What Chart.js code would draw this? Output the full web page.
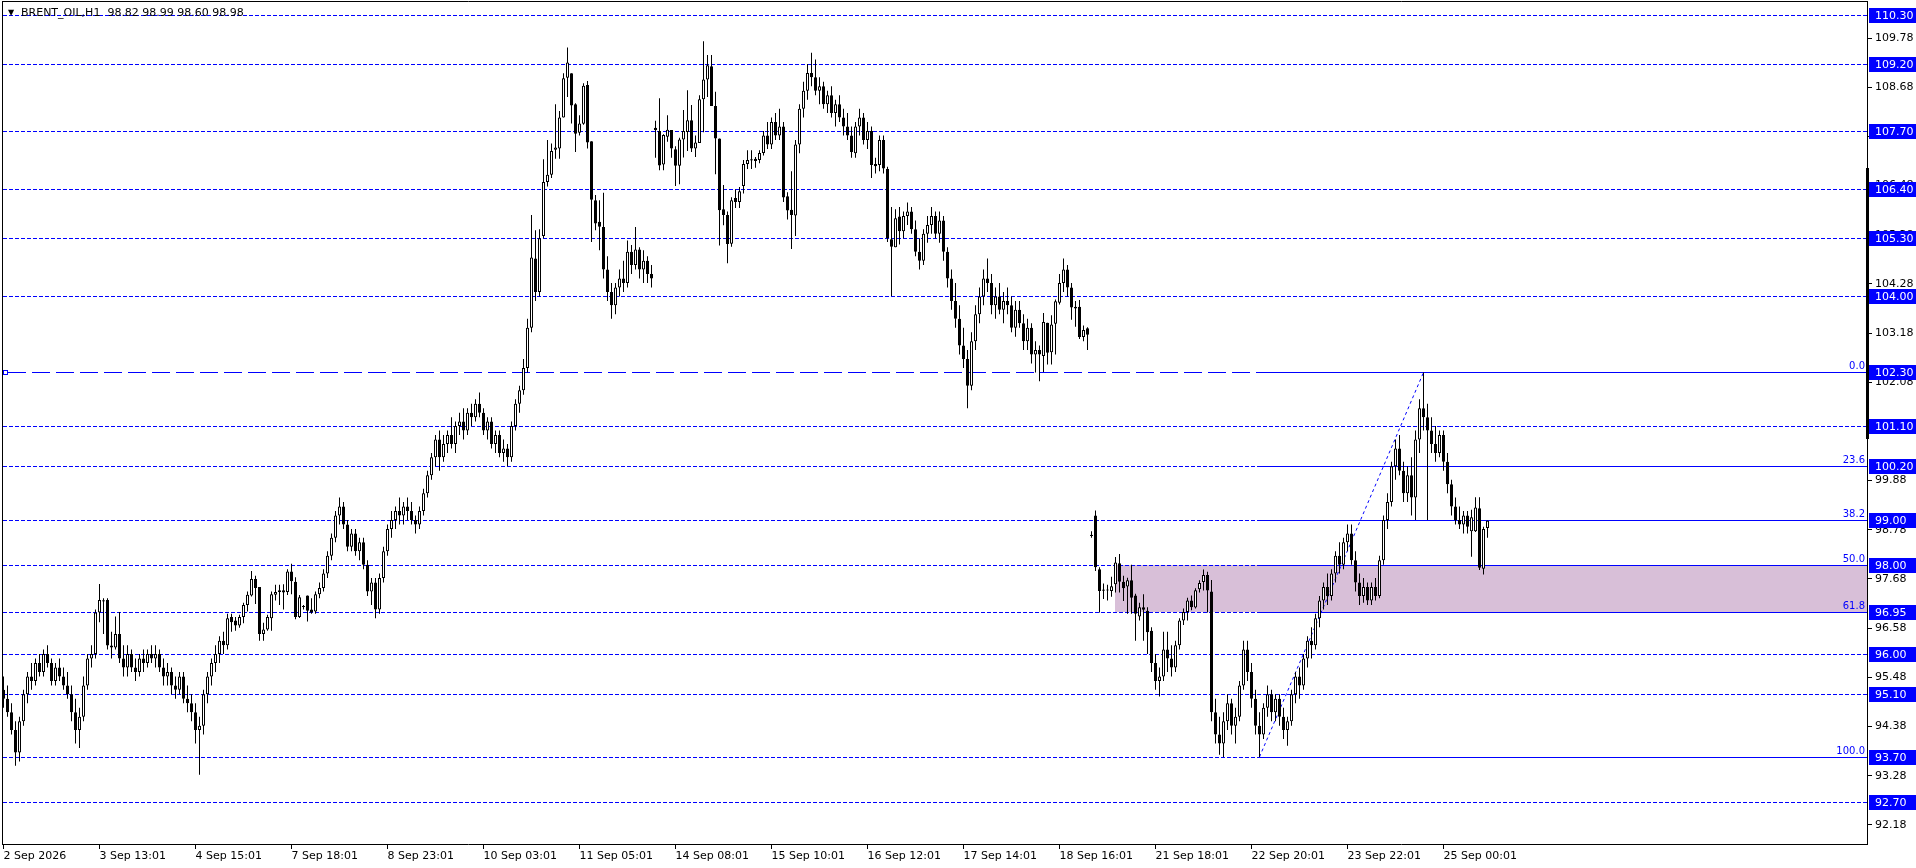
<!DOCTYPE html>
<html><head><meta charset="utf-8">
<script src="https://cdn.jsdelivr.net/npm/chart.js@4.4.1/dist/chart.umd.min.js"></script>
<style>html,body{margin:0;padding:0;background:#fff;overflow:hidden}</style>
</head><body>
<canvas id="c" width="1916" height="868"></canvas>
<script>
const titleText = 'BRENT_OIL,H1  98.82 98.99 98.60 98.98';
const dateLabels = ['2 Sep 2026','3 Sep 13:01','4 Sep 15:01','7 Sep 18:01','8 Sep 23:01','10 Sep 03:01','11 Sep 05:01','14 Sep 08:01','15 Sep 10:01','16 Sep 12:01','17 Sep 14:01','18 Sep 16:01','21 Sep 18:01','22 Sep 20:01','23 Sep 22:01','25 Sep 00:01'];
const labelStep = 24;

const opens = [
95.2,95.0,94.7,94.3,93.8,94.5,95.1,95.5,95.4,95.8,95.6,96.0,
95.8,95.4,95.7,95.5,95.3,95.1,94.7,94.3,94.6,95.3,95.9,96.0,
96.93,97.2,97.21,96.19,96.15,96.45,95.9,95.7,96.0,95.7,95.6,95.9,
95.8,96.0,95.9,96.0,95.7,95.5,95.6,95.3,95.2,95.5,95.0,94.9,
94.7,94.3,94.4,95.1,95.5,95.8,96.0,96.3,96.2,96.83,96.75,96.64,
96.83,97.1,97.31,97.68,97.5,96.45,96.55,96.8,97.33,97.43,97.43,97.39,
97.85,97.62,96.83,97.06,97.31,97.0,96.95,97.34,97.48,97.8,98.2,98.6,
99.1,99.3,98.9,98.4,98.7,98.3,98.5,98.0,97.4,97.6,97.0,97.7,
98.3,98.8,99.0,99.2,99.1,99.3,99.2,99.0,98.9,99.2,99.6,100.0,
100.4,100.8,100.4,100.7,100.9,100.7,101.1,101.2,101.0,101.4,101.3,101.6,
101.4,101.0,101.2,100.7,100.9,100.5,100.6,100.4,101.1,101.6,101.9,102.4,
103.3,104.85,104.1,105.35,106.56,106.72,107.28,107.31,108.0,108.89,108.99,108.3,
107.66,107.86,108.73,107.47,106.15,105.67,105.55,104.6,104.1,103.8,104.2,104.4,
104.3,105.0,104.7,105.05,104.6,104.8,104.5,107.77,107.70,106.95,107.57,107.72,
107.29,106.92,107.51,107.68,107.94,107.31,107.43,108.41,108.85,109.15,108.26,107.53,
105.95,105.82,105.18,106.20,106.11,106.47,106.96,107.05,107.08,107.05,107.21,107.6,
107.4,107.9,107.6,107.8,106.24,105.94,105.81,107.4,108.2,108.6,109.0,108.9,
108.6,108.7,108.3,108.5,108.1,108.3,108.0,107.8,107.6,107.2,107.8,108.0,
107.5,107.7,106.96,106.94,107.5,106.85,105.28,105.1,105.79,105.46,105.8,105.9,
105.5,105.0,104.8,105.4,105.6,105.8,105.4,105.7,105.0,104.4,103.9,103.5,
102.9,102.6,102.0,103.0,103.6,104.0,104.4,104.3,103.8,104.0,103.7,103.9,
103.8,103.3,103.7,103.4,103.0,103.3,102.7,102.8,102.67,103.41,102.75,103.39,
103.86,104.3,104.6,104.2,103.77,103.77,103.09,103.29,98.65,99.10,97.90,97.43,
97.43,97.41,97.56,98.03,97.62,97.51,97.65,97.31,96.84,97.05,96.97,96.52,
95.8,95.4,95.5,96.1,95.9,95.7,96.2,96.75,96.94,97.2,97.04,97.45,
97.61,97.77,97.40,94.7,94.2,94.0,94.5,94.9,94.4,94.6,95.3,96.1,
95.6,95.0,94.4,94.2,94.8,95.1,94.7,95.0,94.6,94.3,94.5,95.1,
95.5,95.3,95.9,96.3,96.2,96.8,97.2,97.5,97.3,97.8,98.2,98.0,
98.5,98.7,98.1,97.6,97.3,97.5,97.2,97.5,97.3,98.1,99.0,99.4,
100.2,100.6,100.1,99.6,100.0,99.5,100.8,101.5,101.3,101.0,100.7,100.5,
100.9,100.3,99.8,99.3,99.0,98.9,99.1,98.75,98.75,99.26,97.91,98.82];

const highs = [
95.5,95.3,94.9,94.5,94.6,95.2,95.6,95.8,95.9,96.0,96.1,96.2,
95.9,95.8,95.9,95.7,95.6,95.3,95.0,94.8,95.5,96.0,96.2,97.0,
97.57,97.25,97.25,96.5,96.84,96.94,96.2,96.2,96.1,95.9,96.0,96.1,
96.1,96.2,96.2,96.1,95.9,95.8,95.7,95.5,95.6,95.6,95.3,95.1,
94.9,94.6,95.2,95.6,95.9,96.2,96.4,96.5,96.9,96.9,96.83,96.88,
97.15,97.4,97.86,97.75,97.5,96.7,96.88,97.4,97.55,97.55,97.56,97.9,
98.02,97.72,97.32,97.1,97.31,97.25,97.4,97.6,97.9,98.3,98.7,99.2,
99.5,99.4,99.0,98.8,98.8,98.6,98.6,98.1,97.7,97.7,97.8,98.4,
98.9,99.2,99.3,99.5,99.4,99.5,99.4,99.1,99.3,99.7,100.1,100.5,
100.9,101.0,100.9,101.0,101.3,101.2,101.4,101.5,101.5,101.6,101.7,101.85,
101.5,101.3,101.3,101.0,101.0,100.8,100.7,101.2,101.7,102.0,102.6,103.5,
105.82,105.48,105.5,107.07,107.5,107.42,108.3,108.15,108.99,109.57,108.99,108.32,
108.05,108.77,108.82,107.47,106.27,106.15,106.32,104.9,104.3,104.3,104.6,104.8,
105.25,105.15,105.55,105.1,105.03,104.9,104.7,107.93,108.43,107.63,108.05,107.72,
107.36,107.55,108.17,108.61,108.28,107.60,108.50,109.71,109.40,109.40,108.58,107.53,
106.49,105.90,106.22,106.39,106.45,107.05,107.27,107.27,107.12,107.27,107.7,107.9,
108.0,108.1,108.2,107.9,106.33,106.8,107.5,108.3,108.8,109.2,109.45,109.3,
108.9,108.8,108.6,108.7,108.4,108.5,108.2,108.1,107.8,107.9,108.2,108.1,
107.9,107.8,107.1,107.6,107.6,106.9,106.0,105.95,106.0,105.9,106.1,106.0,
105.7,105.3,105.5,105.8,106.0,105.9,105.9,105.8,105.1,104.6,104.3,103.8,
103.3,102.8,103.2,103.8,104.2,104.6,104.85,104.5,104.2,104.3,104.1,104.2,
104.0,103.9,103.9,103.6,103.5,103.4,103.0,102.9,103.63,103.41,103.58,103.93,
104.5,104.85,104.7,104.3,103.9,103.92,103.35,103.31,98.75,99.21,97.94,97.58,
97.55,97.73,98.17,98.24,97.75,97.71,98.0,97.35,97.15,97.34,97.05,96.6,
96.0,95.7,96.5,96.5,96.2,96.3,96.8,97.02,97.26,97.31,97.47,97.65,
97.89,97.84,97.66,95.0,94.6,94.7,95.1,95.0,94.8,95.4,96.3,96.3,
95.8,95.2,94.7,94.9,95.3,95.2,95.1,95.1,94.8,94.6,95.2,95.6,
95.7,96.0,96.4,96.6,96.9,97.3,97.6,97.8,97.9,98.3,98.5,98.6,
98.9,98.9,98.3,97.8,97.7,97.6,97.6,97.7,98.2,99.1,99.6,100.3,
100.8,100.9,100.3,100.2,100.4,101.0,101.7,102.3,101.6,101.3,101.1,101.0,
101.0,100.5,99.9,99.5,99.3,99.2,99.2,99.23,99.51,99.51,98.85,98.99];

const lows = [
94.8,94.6,94.2,93.5,93.6,94.4,94.9,95.2,95.3,95.5,95.5,95.7,
95.3,95.3,95.4,95.2,95.0,94.5,94.0,93.9,94.5,95.2,95.7,95.9,
96.71,96.45,96.1,95.9,96.1,95.8,95.5,95.5,95.6,95.4,95.5,95.6,
95.7,95.8,95.7,95.6,95.3,95.3,95.1,95.0,95.1,94.9,94.7,94.5,
94.0,93.3,94.2,94.9,95.3,95.6,95.8,96.0,96.1,96.5,96.52,96.59,
96.69,96.95,97.29,97.12,96.3,96.3,96.52,96.52,97.2,97.1,97.0,97.32,
97.34,96.78,96.81,97.0,96.73,96.9,96.9,97.25,97.4,97.7,98.1,98.5,
98.9,98.8,98.3,98.3,98.2,98.1,97.9,97.3,97.1,96.8,96.9,97.6,
98.2,98.6,98.8,98.9,98.9,99.0,98.9,98.7,98.8,99.1,99.5,99.9,
100.2,100.1,100.3,100.5,100.6,100.5,100.9,100.8,100.9,101.1,101.2,101.3,
100.9,100.8,100.6,100.5,100.4,100.3,100.2,100.3,101.0,101.4,101.8,102.3,
103.2,103.9,104.0,105.3,106.46,106.65,107.08,107.08,108.0,108.46,107.87,107.23,
107.6,107.84,107.31,105.22,105.48,105.03,104.4,103.9,103.5,103.6,104.0,104.1,
104.2,104.5,104.6,104.4,104.3,104.3,104.2,107.10,106.82,106.82,107.46,107.10,
106.47,106.51,107.11,107.25,107.23,107.12,107.43,107.67,108.46,108.26,106.73,105.14,
105.59,104.74,105.11,105.98,105.98,106.30,106.85,106.85,106.88,106.98,107.15,107.3,
107.3,107.5,107.5,106.11,105.72,105.06,105.35,107.2,108.0,108.4,108.7,108.5,
108.3,108.2,108.1,108.0,107.8,107.9,107.6,107.5,107.1,107.1,107.6,107.4,
107.3,106.65,106.75,106.8,106.75,105.22,104.01,105.1,105.16,105.3,105.6,105.4,
104.9,104.6,104.7,105.2,105.4,105.3,105.2,104.8,104.2,103.7,103.3,102.7,
102.4,101.5,101.9,102.8,103.4,103.8,104.1,103.6,103.5,103.6,103.4,103.6,
103.2,103.1,103.3,102.8,102.8,102.5,102.3,102.1,102.31,102.48,102.48,102.70,
103.82,104.1,104.0,103.48,103.32,103.05,103.0,102.8,98.6,97.86,96.93,97.23,
97.2,97.28,97.38,97.38,97.19,96.90,96.90,96.30,96.75,96.30,96.0,95.6,
95.2,95.05,95.4,95.6,95.5,95.6,96.1,96.65,96.75,96.98,97.02,97.38,
97.42,96.93,94.5,94.0,93.75,93.7,94.3,94.2,94.0,94.5,95.2,95.4,
94.8,94.2,93.7,94.1,94.6,94.5,94.5,94.4,94.1,93.95,94.4,94.9,
95.0,95.2,95.7,95.9,96.1,96.6,97.0,97.1,97.2,97.6,97.8,97.9,
98.3,98.0,97.4,97.1,97.15,97.1,97.1,97.2,97.25,98.0,98.8,99.3,
99.9,100.0,99.4,99.4,99.1,99.0,100.5,101.0,99.0,100.5,100.3,100.4,
100.1,99.6,99.1,98.9,98.8,98.7,98.7,98.18,98.73,97.88,97.78,98.60];

const closes = [
95.0,94.7,94.3,93.8,94.5,95.1,95.5,95.4,95.8,95.6,96.0,95.8,
95.4,95.7,95.5,95.3,95.1,94.7,94.3,94.6,95.3,95.9,96.0,96.93,
97.21,97.18,96.19,96.15,96.45,95.9,95.7,96.0,95.7,95.6,95.9,95.8,
96.0,95.9,96.0,95.7,95.5,95.6,95.3,95.2,95.5,95.0,94.9,94.7,
94.3,94.4,95.1,95.5,95.8,96.0,96.3,96.2,96.8,96.71,96.64,96.83,
97.1,97.33,97.68,97.48,96.45,96.55,96.83,97.34,97.39,97.39,97.38,97.85,
97.63,96.83,97.27,97.07,96.97,96.93,97.34,97.48,97.8,98.2,98.6,99.1,
99.3,98.9,98.4,98.7,98.3,98.5,98.0,97.4,97.6,97.0,97.7,98.3,
98.8,99.0,99.2,99.1,99.3,99.2,99.0,98.9,99.2,99.6,100.0,100.4,
100.8,100.4,100.7,100.9,100.7,101.1,101.2,101.0,101.4,101.3,101.6,101.4,
101.0,101.2,100.7,100.9,100.5,100.6,100.4,101.1,101.6,101.9,102.4,103.3,
104.87,104.1,105.3,106.56,106.72,107.25,107.33,108.0,108.88,109.23,108.27,107.64,
107.87,108.71,107.44,106.16,105.63,105.56,104.6,104.1,103.8,104.2,104.4,104.3,
105.0,104.7,105.05,104.6,104.8,104.5,104.4,107.72,106.93,107.61,107.73,107.31,
106.92,107.51,107.70,107.94,107.31,107.44,108.41,108.85,109.17,108.26,107.53,105.93,
105.82,105.17,106.15,106.11,106.35,106.96,107.05,107.06,107.03,107.21,107.6,107.4,
107.9,107.6,107.8,106.21,105.92,105.82,107.4,108.2,108.6,109.0,108.9,108.6,
108.7,108.3,108.5,108.1,108.3,108.0,107.8,107.6,107.23,107.8,108.0,107.5,
107.7,106.94,106.91,107.5,106.86,105.3,105.11,105.75,105.46,105.8,105.9,105.5,
105.0,104.8,105.4,105.6,105.8,105.4,105.7,105.0,104.4,103.9,103.5,102.9,
102.6,102.0,103.0,103.6,104.0,104.4,104.3,103.8,104.0,103.7,103.9,103.8,
103.3,103.7,103.4,103.0,103.3,102.7,102.8,102.7,103.43,102.74,103.37,103.89,
104.3,104.6,104.2,103.75,103.73,103.09,103.25,103.14,98.66,97.94,97.41,97.43,
97.44,97.52,98.05,97.62,97.47,97.65,97.26,96.90,97.05,96.99,96.49,95.8,
95.4,95.5,96.1,95.9,95.7,96.2,96.75,96.94,97.2,97.05,97.43,97.59,
97.77,97.42,94.7,94.2,94.0,94.5,94.9,94.4,94.6,95.3,96.1,95.6,
95.0,94.4,94.2,94.8,95.1,94.7,95.0,94.6,94.3,94.5,95.1,95.5,
95.3,95.9,96.3,96.2,96.8,97.2,97.5,97.3,97.8,98.2,98.0,98.5,
98.7,98.1,97.6,97.3,97.5,97.2,97.5,97.3,98.1,99.0,99.4,100.2,
100.6,100.1,99.6,100.0,99.5,100.8,101.5,101.3,101.0,100.7,100.5,100.9,
100.3,99.8,99.3,99.0,98.9,99.1,98.85,99.06,99.28,97.93,98.80,98.98];

const yTicks = [92.18,93.28,94.38,95.48,96.58,97.68,98.78,99.88,100.98,102.08,103.18,104.28,105.38,106.48,107.58,108.68,109.78];
const levels = [110.30,109.20,107.70,106.40,105.30,104.00,101.10,100.20,99.00,98.00,96.95,96.00,95.10,93.70,92.70];
const mainLevel = 102.30;
const fibNames = ['0.0','23.6','38.2','50.0','61.8','100.0'];
const fibPrices = [102.30,100.20,99.00,98.00,96.95,93.70];
const fibLowBar = 314, fibHighBar = 355;
const zoneTop = 98.00, zoneBottom = 96.95, zoneFromBar = 278;
const rangeMarkTop = 106.87, rangeMarkBottom = 100.82;

const BLUE = '#0000ff';
const FONT = 'DejaVu Sans';
const MIN_BODY = 0.025;

const wickData = opens.map((_, i) => ({x: i, y: [lows[i], highs[i]]}));
const bodyData = opens.map((o, i) => {
  let lo = Math.min(o, closes[i]), hi = Math.max(o, closes[i]);
  if (hi - lo < MIN_BODY) { const m = (hi + lo) / 2; lo = m - MIN_BODY / 2; hi = m + MIN_BODY / 2; }
  return {x: i, y: [lo, hi]};
});
const bodyColors = opens.map((o, i) => closes[i] >= o ? '#ffffff' : '#000000');

const overlay = {
  id: 'overlay',
  beforeDatasetsDraw(chart) {
    const ctx = chart.ctx, a = chart.chartArea;
    const xs = chart.scales.x, ys = chart.scales.y;
    const py = v => Math.round(ys.getPixelForValue(v)) + 0.5;
    ctx.save();
    ctx.beginPath(); ctx.rect(a.left, a.top, a.right - a.left, a.bottom - a.top); ctx.clip();
    // zone
    const zx = Math.round(xs.getPixelForValue(zoneFromBar)) - 1;
    const zt = Math.round(ys.getPixelForValue(zoneTop)), zb = Math.round(ys.getPixelForValue(zoneBottom));
    ctx.fillStyle = '#d8bfd8';
    ctx.fillRect(zx, zt, a.right - zx, zb - zt);
    // level lines
    ctx.strokeStyle = BLUE; ctx.lineWidth = 1;
    ctx.setLineDash([4, 2]);
    levels.forEach(v => { const y = py(v); ctx.beginPath(); ctx.moveTo(a.left + 3, y); ctx.lineTo(a.right, y); ctx.stroke(); });
    // main dashed level
    ctx.setLineDash([18, 6]);
    const my = py(mainLevel);
    ctx.beginPath(); ctx.moveTo(a.left + 8, my); ctx.lineTo(a.right, my); ctx.stroke();
    ctx.setLineDash([]);
    ctx.strokeRect(3.5, my - 2, 4, 4);
    // fib levels
    const fx = Math.round(xs.getPixelForValue(fibLowBar));
    fibPrices.forEach(v => { const y = py(v); ctx.beginPath(); ctx.moveTo(fx, y); ctx.lineTo(a.right, y); ctx.stroke(); });
    // fib trend line
    ctx.setLineDash([3, 3]);
    ctx.beginPath();
    ctx.moveTo(xs.getPixelForValue(fibLowBar), ys.getPixelForValue(fibPrices[fibPrices.length - 1]));
    ctx.lineTo(xs.getPixelForValue(fibHighBar), ys.getPixelForValue(fibPrices[0]));
    ctx.stroke();
    ctx.setLineDash([]);
    // fib labels
    ctx.fillStyle = BLUE; ctx.font = '10px "' + FONT + '"';
    ctx.textAlign = 'right'; ctx.textBaseline = 'bottom';
    fibPrices.forEach((v, k) => ctx.fillText(fibNames[k], a.right - 3, py(v) - 1));
    ctx.restore();
  },
  afterDraw(chart) {
    const ctx = chart.ctx, a = chart.chartArea, ys = chart.scales.y;
    ctx.save();
    // frame
    ctx.strokeStyle = '#000'; ctx.lineWidth = 1;
    ctx.beginPath();
    ctx.moveTo(2.5, 1.5); ctx.lineTo(a.right - 0.5, 1.5);
    ctx.moveTo(2.5, 1); ctx.lineTo(2.5, a.bottom);
    ctx.moveTo(a.right - 0.5, 1); ctx.lineTo(a.right - 0.5, a.bottom);
    ctx.moveTo(2, a.bottom - 0.5); ctx.lineTo(a.right, a.bottom - 0.5);
    ctx.stroke();
    // range mark on axis
    const t = Math.round(ys.getPixelForValue(rangeMarkTop)), b = Math.round(ys.getPixelForValue(rangeMarkBottom));
    ctx.fillStyle = '#000';
    ctx.fillRect(a.right - 2, t, 3, b - t);
    // price boxes
    ctx.font = '11px "' + FONT + '"'; ctx.textAlign = 'left'; ctx.textBaseline = 'middle';
    [...levels, mainLevel].forEach(v => {
      const y = Math.round(ys.getPixelForValue(v));
      ctx.fillStyle = BLUE; ctx.fillRect(a.right + 1, y - 7, chart.width - a.right - 1, 15);
      ctx.fillStyle = '#fff'; ctx.fillText(v.toFixed(2), a.right + 7, y + 1);
    });
    // title
    ctx.fillStyle = '#000';
    ctx.font = '8px "' + FONT + '"'; ctx.fillText('\u25BC', 8, 13);
    ctx.font = '11px "' + FONT + '"'; ctx.fillText(titleText, 21, 13);
    ctx.restore();
  }
};

new Chart(document.getElementById('c'), {
  type: 'bar',
  data: {
    datasets: [
      { data: bodyData, backgroundColor: bodyColors, borderColor: '#000', borderWidth: 1, borderSkipped: false,
        barThickness: 3, grouped: false, order: 0, inflateAmount: 0 },
      { data: wickData, backgroundColor: '#000', borderWidth: 0, barThickness: 1, grouped: false, order: 1, inflateAmount: 0 }
    ]
  },
  options: {
    responsive: false, animation: false, devicePixelRatio: 1,
    layout: { padding: 0 },
    plugins: { legend: { display: false }, tooltip: { enabled: false } },
    events: [],
    scales: {
      x: {
        type: 'linear', position: 'bottom', offset: false, min: -0.875, max: 466.125,
        afterBuildTicks: s => { s.ticks = dateLabels.map((_, k) => ({ value: k * labelStep })); },
        afterFit: s => { s.height = 23; s.paddingLeft = 0; s.paddingRight = 0; },
        ticks: { autoSkip: false, maxRotation: 0, minRotation: 0, align: 'start', padding: 1, color: '#000',
          font: { family: FONT, size: 11 }, callback: v => dateLabels[Math.round(v / labelStep)] },
        grid: { offset: false, drawOnChartArea: false, drawTicks: true, tickLength: 4, color: '#000' },
        border: { display: false }
      },
      y: {
        type: 'linear', position: 'right', min: 91.73, max: 110.63, beginAtZero: false,
        afterBuildTicks: s => { s.ticks = yTicks.map(v => ({ value: v })); },
        afterFit: s => { s.width = 48; s.paddingTop = 0; s.paddingBottom = 0; },
        ticks: { color: '#000', padding: 3, font: { family: FONT, size: 11 }, callback: v => v.toFixed(2) },
        grid: { drawOnChartArea: false, drawTicks: true, tickLength: 4, color: '#000' },
        border: { display: false }
      }
    }
  },
  plugins: [overlay]
});
</script>
</body></html>
